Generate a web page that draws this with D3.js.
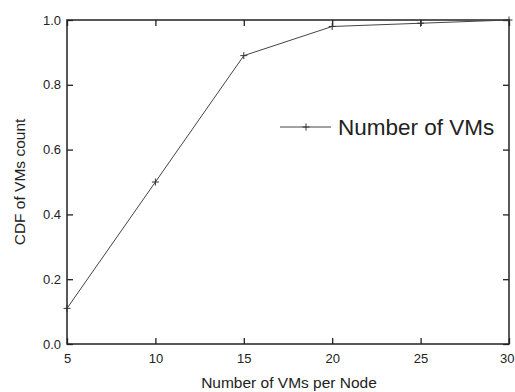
<!DOCTYPE html>
<html>
<head>
<meta charset="utf-8">
<script src="https://cdn.jsdelivr.net/npm/d3@7"></script>
<style>
  body { margin: 0; background: #fff; }
  text { font-family: "Liberation Sans", Arial, sans-serif; fill: #222; }
</style>
</head>
<body>
<svg id="chart" width="515" height="392"></svg>
<script>
// data
const vmsPerNode = [5, 10, 15, 20, 25, 30];
const cdfValues = [0.11, 0.5, 0.89, 0.98, 0.99, 1.0];
const xTicks = [5, 10, 15, 20, 25, 30];
const yTicks = [0.0, 0.2, 0.4, 0.6, 0.8, 1.0];
const seriesName = "Number of VMs";

const margin = {top: 20, right: 6, bottom: 48, left: 67};
const width = 515 - margin.left - margin.right;
const height = 392 - margin.top - margin.bottom;

const svg = d3.select("#chart");
const g = svg.append("g").attr("transform", `translate(${margin.left},${margin.top})`);

const x = d3.scaleLinear().domain([5, 30]).range([0, width]);
const y = d3.scaleLinear().domain([0, 1]).range([height, 0]);

// ticks on all four sides, pointing inward
const tickLen = 6;
const styleAxis = sel => {
    sel.select(".domain").remove();
    sel.selectAll(".tick line").attr("stroke", "#222").attr("stroke-width", 1.3);
    sel.selectAll(".tick text").style("font-size", "13px").attr("fill", "#222");
};

const xAxis = g.append("g").attr("transform", `translate(0,${height})`)
    .call(d3.axisBottom(x).tickValues(xTicks).tickSizeInner(-tickLen).tickSizeOuter(0).tickPadding(10))
    .call(styleAxis);
// last label sits on the window edge; keep it inside
xAxis.selectAll(".tick text").filter(d => d === 30)
    .attr("text-anchor", "end").attr("x", 5);

g.append("g")
    .call(d3.axisTop(x).tickValues(xTicks).tickSizeInner(-tickLen).tickSizeOuter(0).tickFormat(""))
    .call(styleAxis);
g.append("g")
    .call(d3.axisLeft(y).tickValues(yTicks).tickSizeInner(-tickLen).tickSizeOuter(0).tickPadding(6).tickFormat(d3.format(".1f")))
    .call(styleAxis);
g.append("g").attr("transform", `translate(${width},0)`)
    .call(d3.axisRight(y).tickValues(yTicks).tickSizeInner(-tickLen).tickSizeOuter(0).tickFormat(""))
    .call(styleAxis);

// frame
g.append("rect")
    .attr("width", width).attr("height", height)
    .attr("fill", "none").attr("stroke", "#222").attr("stroke-width", 1.5);

const points = vmsPerNode.map((v, i) => ({x: v, y: cdfValues[i]}));

const line = d3.line().x(d => x(d.x)).y(d => y(d.y));
g.append("path")
    .datum(points)
    .attr("fill", "none")
    .attr("stroke", "#444")
    .attr("stroke-width", 1)
    .attr("d", line);

function drawPlus(sel, px, py) {
    const s = 3.5;
    sel.append("path")
        .attr("d", `M${px - s},${py}H${px + s}M${px},${py - s}V${py + s}`)
        .attr("stroke", "#333").attr("stroke-width", 1).attr("fill", "none");
}
const markers = g.append("g");
points.forEach(d => drawPlus(markers, x(d.x), y(d.y)));

// legend
const legend = g.append("g").attr("transform", `translate(${280 - margin.left},${127 - margin.top})`);
legend.append("line").attr("x1", 0).attr("x2", 51).attr("y1", 0).attr("y2", 0)
    .attr("stroke", "#444").attr("stroke-width", 1);
drawPlus(legend, 26, 0);
legend.append("text").attr("x", 58).attr("y", 8)
    .style("font-size", "22.5px").text(seriesName);

// axis titles
svg.append("text")
    .attr("x", 289).attr("y", 388)
    .attr("text-anchor", "middle").style("font-size", "15.5px")
    .text("Number of VMs per Node");
svg.append("text")
    .attr("transform", `translate(25,182) rotate(-90)`)
    .attr("text-anchor", "middle").style("font-size", "15.5px")
    .text("CDF of VMs count");
</script>
</body>
</html>
